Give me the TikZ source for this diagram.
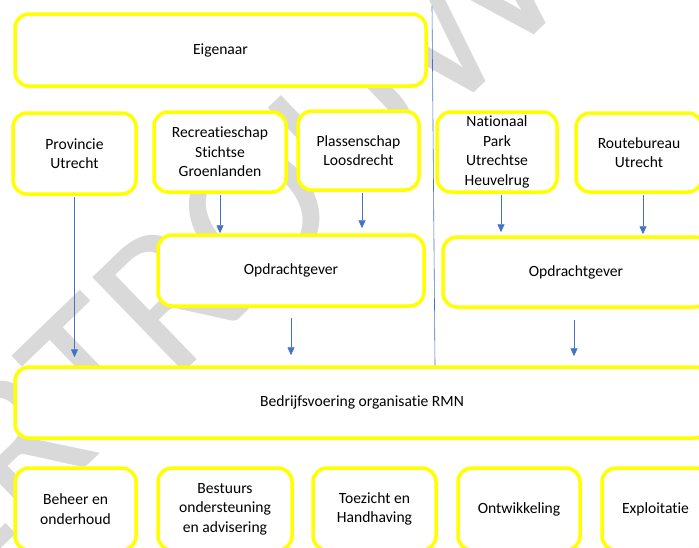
\documentclass[tikz,border=0pt]{standalone}
\usepackage{fontspec}
\setmainfont{Carlito}[Ligatures=NoCommon]
\usetikzlibrary{arrows.meta}
\definecolor{boxyellow}{RGB}{255,255,0}
\definecolor{arrowblue}{RGB}{68,114,196}
\definecolor{stampgray}{RGB}{217,217,217}

\begin{document}
\begin{tikzpicture}[x=1pt,y=-1pt,
    box/.style={draw=boxyellow, line width=3.5pt, rounded corners=14pt, fill=white,
      align=center, inner sep=0pt, font=\fontsize{15.6}{19.5}\selectfont},
    pijl/.style={draw=arrowblue, line width=0.8pt, -{Triangle[length=8pt,width=7pt]}}]
    \useasboundingbox (0,0) rectangle (699,547);
    \clip (0,0) rectangle (699,547);

    %Watermark
    \node[rotate=44, anchor=base, inner sep=0pt, text=stampgray, font=\fontsize{205}{205}\selectfont] (stempel) at (368.5,194) {VERTROUWELIJK};

    %Top row
    \node[box, minimum width=411, minimum height=72] (eigenaar) at (220.5,50) {Eigenaar};
    \node[box, minimum width=123, minimum height=81] (provincie) at (74.5,153.5) {Provincie\\Utrecht};
    \node[box, minimum width=132, minimum height=80] (recreatie) at (220,152) {Recreatieschap\\Stichtse\\Groenlanden};
    \node[box, minimum width=121, minimum height=79] (plassen) at (358.5,150.5) {Plassenschap\\Loosdrecht};
    \node[box, minimum width=120, minimum height=80] (nationaal) at (497,152) {Nationaal\\Park\\Utrechtse\\Heuvelrug};
    \node[box, minimum width=126, minimum height=79] (route) at (639,152.5) {Routebureau\\Utrecht};

    %Opdrachtgevers
    \node[box, minimum width=266, minimum height=71] (opdrachtL) at (291,270.5) {Opdrachtgever};
    \node[box, minimum width=266, minimum height=70] (opdrachtR) at (576,272) {Opdrachtgever};

    %Bedrijfsvoering
    \node[box, minimum width=694, minimum height=71] (bedrijf) at (362,402.5) {Bedrijfsvoering organisatie RMN};

    %Bottom row
    \node[box, minimum width=121, minimum height=82] (beheer) at (75.5,509) {Beheer en\\onderhoud};
    \node[box, minimum width=134, minimum height=82] (bestuur) at (225,509) {Bestuurs\\ondersteuning\\en advisering};
    \node[box, minimum width=123, minimum height=82] (toezicht) at (374.5,509) {Toezicht en\\Handhaving};
    \node[box, minimum width=122, minimum height=82] (ontwikkeling) at (519,509) {Ontwikkeling};
    \node[box, minimum width=107, minimum height=82] (exploitatie) at (655.5,509) {Exploitatie};

    %Divider
    \coordinate (scheidingboven) at (432,6);
    \draw[arrowblue, line width=0.6pt] (scheidingboven) -- (bedrijf.north -| 435,0);

    %Arrows
    \draw[pijl, shorten <=1.5pt, shorten >=8pt] (provincie.south) -- (provincie.south |- bedrijf.north);
    \draw[pijl, shorten <=1.5pt] (recreatie.south) -- (recreatie.south |- opdrachtL.north);
    \draw[pijl, shorten <=1.5pt, shorten >=5pt] ([xshift=3.5pt]plassen.south) -- ([xshift=3.5pt]plassen.south |- opdrachtL.north);
    \draw[pijl, shorten <=1.5pt, shorten >=3pt] ([xshift=4pt]nationaal.south) -- ([xshift=4pt]nationaal.south |- opdrachtR.north);
    \draw[pijl, shorten <=1.5pt, shorten >=1pt] ([xshift=4pt]route.south) -- ([xshift=4pt]route.south |- opdrachtR.north);
    \draw[pijl, shorten <=10pt, shorten >=10pt] (opdrachtL.south) -- (opdrachtL.south |- bedrijf.north);
    \draw[pijl, shorten <=11pt, shorten >=9pt] ([xshift=-2pt]opdrachtR.south) -- ([xshift=-2pt]opdrachtR.south |- bedrijf.north);
\end{tikzpicture}
\end{document}
